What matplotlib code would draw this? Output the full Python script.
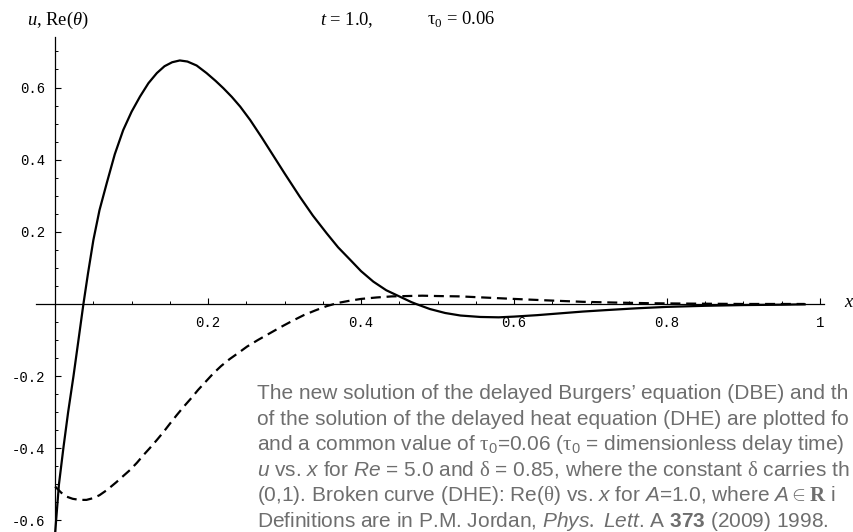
import matplotlib
matplotlib.use("Agg")
import matplotlib.pyplot as plt
from matplotlib.ticker import FixedLocator, FixedFormatter

# ---- data ----
solid_x = [0.000, 0.005, 0.011, 0.017, 0.024, 0.030, 0.037, 0.043, 0.050, 0.058,
           0.0675, 0.078, 0.089, 0.100, 0.111, 0.122, 0.133, 0.143, 0.153, 0.163,
           0.173, 0.185, 0.198, 0.210, 0.220, 0.231, 0.242, 0.255, 0.270, 0.285,
           0.300, 0.320, 0.337, 0.355, 0.370, 0.386, 0.400, 0.416, 0.433, 0.451,
           0.466, 0.472, 0.490, 0.510, 0.530, 0.556, 0.580, 0.600, 0.630, 0.660,
           0.690, 0.720, 0.760, 0.800, 0.850, 0.900, 0.950, 0.980]
solid_y = [-0.635, -0.500, -0.396, -0.300, -0.200, -0.108, 0.000, 0.085, 0.177, 0.260,
           0.335, 0.415, 0.482, 0.533, 0.575, 0.612, 0.640, 0.659, 0.670, 0.675,
           0.672, 0.661, 0.640, 0.618, 0.598, 0.574, 0.547, 0.510, 0.462, 0.412,
           0.362, 0.297, 0.245, 0.196, 0.157, 0.122, 0.091, 0.062, 0.038, 0.020,
           0.005, 0.000, -0.014, -0.025, -0.032, -0.036, -0.037, -0.035, -0.031, -0.026,
           -0.021, -0.017, -0.012, -0.008, -0.005, -0.003, -0.002, -0.001]

dashed_x = [0.000, 0.008, 0.015, 0.023, 0.032, 0.041, 0.050, 0.058, 0.0675, 0.080,
            0.090, 0.098, 0.107, 0.115, 0.124, 0.133, 0.142, 0.150, 0.159, 0.168,
            0.178, 0.187, 0.197, 0.207, 0.217, 0.228, 0.240, 0.251, 0.265, 0.280,
            0.295, 0.310, 0.325, 0.340, 0.355, 0.370, 0.385, 0.400, 0.420, 0.440,
            0.460, 0.480, 0.500, 0.530, 0.560, 0.600, 0.643, 0.690, 0.730, 0.780,
            0.830, 0.900, 0.980]
dashed_y = [-0.506, -0.523, -0.534, -0.540, -0.543, -0.543, -0.538, -0.530, -0.516, -0.494,
            -0.475, -0.460, -0.440, -0.420, -0.399, -0.377, -0.354, -0.332, -0.308, -0.285,
            -0.261, -0.238, -0.215, -0.192, -0.172, -0.153, -0.135, -0.118, -0.100, -0.082,
            -0.064, -0.047, -0.031, -0.018, -0.006, 0.003, 0.009, 0.014, 0.018, 0.021,
            0.022, 0.023, 0.022, 0.021, 0.018, 0.014, 0.010, 0.006, 0.004, 0.002,
            0.001, 0.000, 0.000]

x_major = [0.2, 0.4, 0.6, 0.8, 1.0]
x_major_labels = ["0.2", "0.4", "0.6", "0.8", "1"]
y_major = [-0.6, -0.4, -0.2, 0.2, 0.4, 0.6]
y_major_labels = ["-0.6", "-0.4", "-0.2", "0.2", "0.4", "0.6"]
x_minor = [0.05, 0.1, 0.15, 0.25, 0.3, 0.35, 0.45, 0.5, 0.55, 0.65, 0.7, 0.75, 0.85, 0.9, 0.95]
y_minor = [-0.55, -0.5, -0.45, -0.35, -0.3, -0.25, -0.15, -0.1, -0.05,
           0.05, 0.1, 0.15, 0.25, 0.3, 0.35, 0.45, 0.5, 0.55, 0.65, 0.7]

caption_lines = [
    "The new solution of the delayed Burgers\u2019 equation (DBE) and th",
    "of the solution of the delayed heat equation (DHE) are plotted fo",
    r"and a common value of $\mathrm{\tau}_{\mathsf{0}}$=0.06 ($\mathrm{\tau}_{\mathsf{0}}$ = dimensionless delay time)",
    r"$\mathit{u}$ vs. $\mathit{x}$ for $\mathit{Re}$ = 5.0 and $\mathrm{\delta}$ = 0.85, where the constant $\mathrm{\delta}$ carries th",
    r"(0,1). Broken curve (DHE): Re($\mathrm{\theta}$) vs. $\mathit{x}$ for $\mathit{A}$=1.0, where $\mathit{A}\in\mathtt{R}$ i",
    r"Definitions are in P.M. Jordan, $\mathit{Phys.\ Lett}$. A $\mathbf{373}$ (2009) 1998.",
]

# ---- styling ----
plt.rcParams["mathtext.fontset"] = "custom"
plt.rcParams["mathtext.rm"] = "Liberation Serif"
plt.rcParams["mathtext.it"] = "Liberation Sans:italic"
plt.rcParams["mathtext.bf"] = "Liberation Sans:bold"
plt.rcParams["mathtext.cal"] = "Liberation Serif:italic"
plt.rcParams["mathtext.tt"] = "Liberation Serif:bold"
plt.rcParams["mathtext.sf"] = "Liberation Sans"

W, H = 854, 532
fig = plt.figure(figsize=(W / 100, H / 100), dpi=100)
ax = fig.add_axes([36 / W, 0, 787.8 / W, 495 / H])
ax.set_xlim(-0.025, 1.005)
ax.set_ylim(-0.632, 0.740)

ax.plot(solid_x, solid_y, color="black", lw=1.6, solid_joinstyle="round")
ax.plot(dashed_x, dashed_y, color="black", lw=1.6, dashes=(4.5, 2.6))

for s in ("top", "right"):
    ax.spines[s].set_visible(False)
ax.spines["left"].set_position(("data", 0))
ax.spines["bottom"].set_position(("data", 0))
for s in ("left", "bottom"):
    ax.spines[s].set_linewidth(0.9)

ax.xaxis.set_major_locator(FixedLocator(x_major))
ax.xaxis.set_major_formatter(FixedFormatter(x_major_labels))
ax.xaxis.set_minor_locator(FixedLocator(x_minor))
ax.yaxis.set_major_locator(FixedLocator(y_major))
ax.yaxis.set_major_formatter(FixedFormatter(y_major_labels))
ax.yaxis.set_minor_locator(FixedLocator(y_minor))

ax.tick_params(axis="x", which="major", direction="in", length=4, width=0.8, pad=9)
ax.tick_params(axis="y", which="major", direction="in", length=4, width=0.8, pad=7)
ax.tick_params(which="minor", direction="in", length=2.3, width=0.7)
for lab in ax.get_xticklabels() + ax.get_yticklabels():
    lab.set_fontfamily("Liberation Mono")
    lab.set_fontsize(10)

# top annotations
fig.text(27 / W, 1 - 25 / H, r"$\mathcal{u}$, Re($\mathcal{\theta}$)",
         fontfamily="Liberation Serif", fontsize=13.3, va="baseline", ha="left")
fig.text(320 / W, 1 - 25 / H, r"$\mathcal{t}$ = 1.0,",
         fontfamily="Liberation Serif", fontsize=13.3, va="baseline", ha="left")
fig.text(427 / W, 1 - 24 / H, r"$\mathrm{\tau}_{\mathrm{0}}$ = 0.06",
         fontfamily="Liberation Serif", fontsize=13.3, va="baseline", ha="left")
# x axis label
fig.text(844 / W, 1 - 307 / H, r"$\mathcal{x}$",
         fontfamily="Liberation Serif", fontsize=13.3, va="baseline", ha="left")

# caption block
baselines = [399.3, 424.8, 450.3, 475.8, 501.3, 526.7]
for txt, b in zip(caption_lines, baselines):
    fig.text(257 / W, 1 - b / H, txt, fontfamily="Liberation Sans",
             fontsize=15, color="#6e6e6e", va="baseline", ha="left")

fig.savefig("out.png", dpi=100)
